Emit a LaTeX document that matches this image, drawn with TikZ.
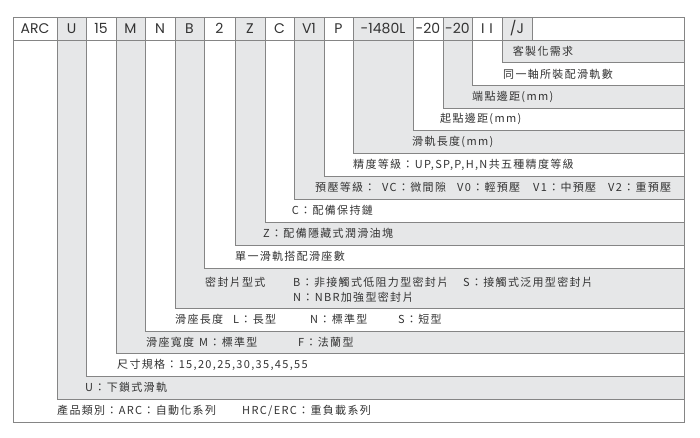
\documentclass[tikz,border=0pt]{standalone}
\usepackage{fontspec}
\setmainfont{Noto Sans CJK TC}
\newfontfamily\descfont[LetterSpace=12]{Noto Sans CJK TC}
\newfontfamily\hdrfont{Poppins}
\definecolor{cellgray}{HTML}{E6E7E8}
\definecolor{linegray}{HTML}{858585}
\definecolor{txt}{HTML}{333333}
\begin{document}
\begin{tikzpicture}[x=1pt,y=-1pt,
  cellline/.style={draw=linegray,line width=0.9pt},
  gcell/.style={cellline,fill=cellgray},
  wcell/.style={cellline,fill=white},
  hdr/.style={inner sep=0pt,text=txt,font=\hdrfont\fontsize{14}{16}\selectfont},
  desc/.style={inner sep=0pt,anchor=west,text=txt,font=\descfont\fontsize{11}{13}\selectfont}]
\useasboundingbox (0,0) rectangle (700,438);
\def\R{684}
% L-shaped strips: #1 left x, #2 right x, #3 row top, #4 row bottom, #5 style
\newcommand\lstrip[5]{\path[#5] (#1,40) -- (#2,40) -- (#2,#3) -- (\R,#3) -- (\R,#4) -- (#1,#4) -- cycle;}
\lstrip{13}{57}{399}{422.7}{wcell}
\lstrip{57}{86}{376}{399}{gcell}
\lstrip{86}{116}{353.5}{376}{wcell}
\lstrip{116}{145}{331}{353.5}{gcell}
\lstrip{145}{175}{308}{331}{wcell}
\lstrip{175}{204}{268}{308}{gcell}
\lstrip{204}{235}{245}{268}{wcell}
\lstrip{235}{265}{222}{245}{gcell}
\lstrip{265}{294}{199}{222}{wcell}
\lstrip{294}{324}{176}{199}{gcell}
\lstrip{324}{353}{153.3}{176}{wcell}
\lstrip{353}{413}{130.7}{153.3}{gcell}
\lstrip{413}{443}{108}{130.7}{wcell}
\lstrip{443}{472}{85.3}{108}{gcell}
\lstrip{472}{502}{62.7}{85.3}{wcell}
\lstrip{502}{532}{40}{62.7}{gcell}
% header cells
\newcommand\hcell[5]{\path[#4] (#1,17) rectangle (#2,40); \node[hdr] (#5) at ({(#1+#2)/2},28.5) {#3};}
\hcell{13}{57}{ARC}{wcell}{hARC}
\hcell{57}{86}{U}{gcell}{hU}
\hcell{86}{116}{15}{wcell}{h15}
\hcell{116}{145}{M}{gcell}{hM}
\hcell{145}{175}{N}{wcell}{hN}
\hcell{175}{204}{B}{gcell}{hB}
\hcell{204}{235}{2}{wcell}{h2}
\hcell{235}{265}{Z}{gcell}{hZ}
\hcell{265}{294}{C}{wcell}{hC}
\hcell{294}{324}{V1}{gcell}{hV}
\hcell{324}{353}{P}{wcell}{hP}
\hcell{353}{413}{-1480L}{gcell}{hL}
\hcell{413}{443}{-20}{wcell}{hSa}
\hcell{443}{472}{-20}{gcell}{hSb}
\hcell{472}{502}{I\,\,I}{wcell}{hII}
\hcell{502}{532}{/J}{gcell}{hJ}
\path[wcell] (532,17) rectangle (\R,40);
% descriptions
\node[desc] (dJ) at (512.7,51.3) {客製化需求};
\node[desc] (dII) at (503,74) {同一軸所裝配滑軌數};
\node[desc] (dSb) at (472,96.7) {端點邊距(mm)};
\node[desc] (dSa) at (440,119.3) {起點邊距(mm)};
\node[desc] (dL) at (412,142) {滑軌長度(mm)};
\node[desc] (dP) at (353,164.7) {精度等級：UP,SP,P,H,N共五種精度等級};
\node[desc] (dV) at (315,187.5) {預壓等級：};
\node[desc] (dVC) at (382,187.5) {VC：微間隙};
\node[desc] (dV0) at (457,187.5) {V0：輕預壓};
\node[desc] (dV1) at (533,187.5) {V1：中預壓};
\node[desc] (dV2) at (608,187.5) {V2：重預壓};
\node[desc] (dC) at (291.7,210.5) {C：配備保持鏈};
\node[desc] (dZ) at (263,233.5) {Z：配備隱藏式潤滑油塊};
\node[desc] (d2) at (235,256.5) {單一滑軌搭配滑座數};
\node[desc] (dB) at (205,282.7) {密封片型式};
\node[desc] (dBB) at (293,282.7) {B：非接觸式低阻力型密封片};
\node[desc] (dBS) at (463,282.7) {S：接觸式泛用型密封片};
\node[desc] (dBN) at (293,297.7) {N：NBR加強型密封片};
\node[desc] (dN) at (175,319.5) {滑座長度};
\node[desc] (dNL) at (233,319.5) {L：長型};
\node[desc] (dNN) at (310,319.5) {N：標準型};
\node[desc] (dNS) at (398,319.5) {S：短型};
\node[desc] (dM) at (146,342.2) {滑座寬度};
\node[desc] (dMM) at (199,342.2) {M：標準型};
\node[desc] (dMF) at (298,342.2) {F：法蘭型};
\node[desc] (d15) at (117,364.7) {尺寸規格：15,20,25,30,35,45,55};
\node[desc] (dU) at (85,387.5) {U：下鎖式滑軌};
\node[desc] (dARC) at (57,410.8) {產品類別：ARC：自動化系列};
\node[desc] (dHRC) at (242,410.8) {HRC/ERC：重負載系列};
\end{tikzpicture}
\end{document}
